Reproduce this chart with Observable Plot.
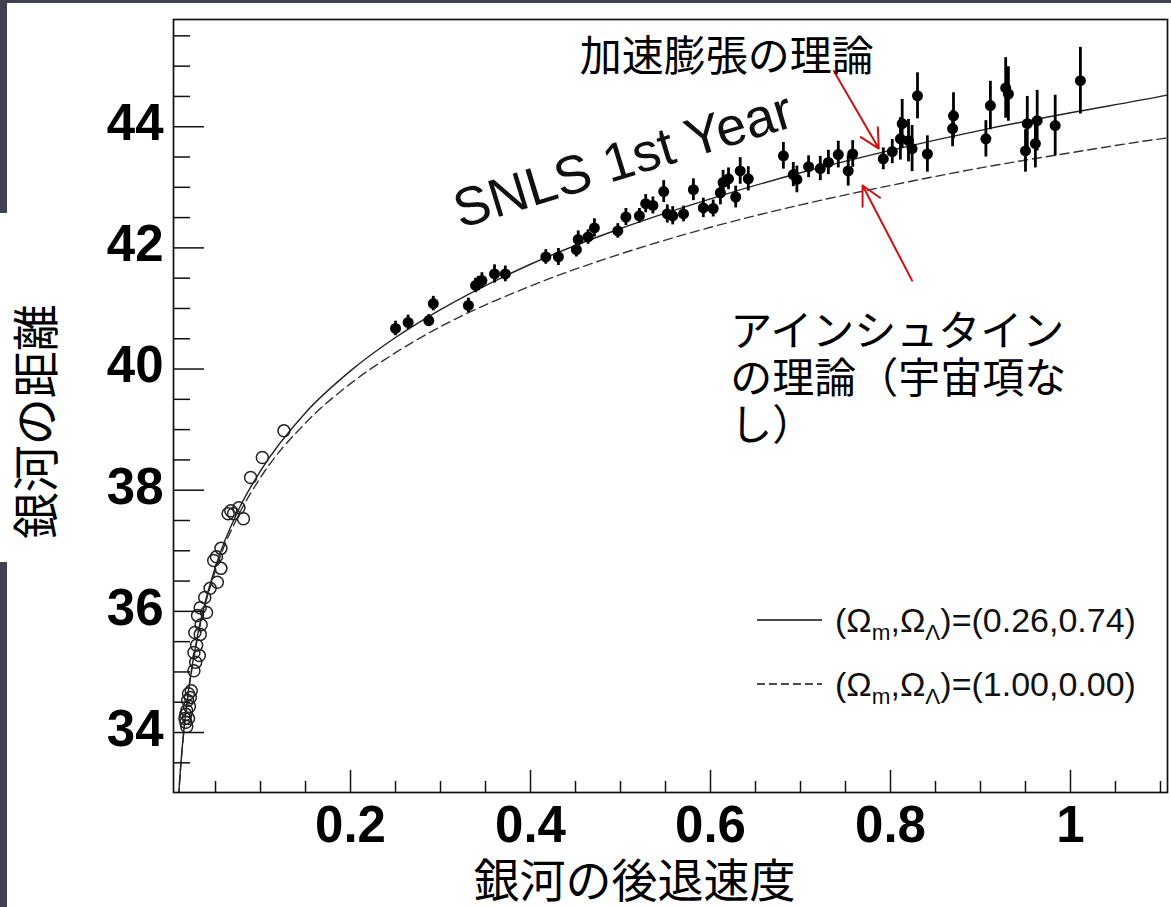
<!DOCTYPE html>
<html><head><meta charset="utf-8">
<script src="https://cdn.jsdelivr.net/npm/d3@7"></script>
<script src="https://cdn.jsdelivr.net/npm/@observablehq/plot@0.6"></script>
<style>
html,body{margin:0;padding:0;background:#fff;}
#wrap{position:relative;width:1171px;height:907px;overflow:hidden;background:#fff;}
#wrap > svg{position:absolute;left:0;top:0;}
.band{position:absolute;background:#3f4050;}
.legend{position:absolute;left:757px;height:40px;display:flex;align-items:center;font-family:"Liberation Sans",Arial,sans-serif;font-size:34px;color:#111;white-space:nowrap;}
.legend svg{margin-right:13px;flex:none;}
.legend sub{font-size:0.66em;vertical-align:-0.35em;line-height:0;}
</style></head><body><div id="wrap"></div>
<script>
// ---- tick values & labels ----
const xTickMajor = [0.2, 0.4, 0.6, 0.8, 1.0];
const xTickLabels = ["0.2", "0.4", "0.6", "0.8", "1"];
const xTickMinor = [0.05, 0.1, 0.15, 0.25, 0.3, 0.35, 0.45, 0.5, 0.55, 0.65, 0.7, 0.75, 0.85, 0.9, 0.95, 1.05, 1.1];
const yTickMajor = [34, 36, 38, 40, 42, 44];
const yTickLabels = ["34", "36", "38", "40", "42", "44"];
const yTickMinor = [33.5, 34.5, 35, 35.5, 36.5, 37, 37.5, 38.5, 39, 39.5, 40.5, 41, 41.5, 42.5, 43, 43.5, 44.5, 45, 45.5];

// ---- SNLS 1st year supernovae (filled) ----
const snlsZ = [0.250,0.264,0.287,0.292,0.331,0.339,0.342,0.346,0.360,0.372,0.417,0.431,0.451,0.453,0.464,0.471,0.497,0.506,0.521,0.528,0.536,0.548,0.552,0.558,0.570,0.581,0.592,0.603,0.611,0.614,0.620,0.628,0.633,0.642,0.681,0.692,0.696,0.709,0.722,0.731,0.742,0.753,0.758,0.792,0.802,0.811,0.813,0.820,0.824,0.830,0.841,0.869,0.870,0.906,0.911,0.928,0.931,0.950,0.952,0.961,0.963,0.983,1.011];
const snlsMu = [40.67,40.77,40.80,41.08,41.05,41.38,41.41,41.46,41.57,41.57,41.85,41.85,41.97,42.14,42.18,42.33,42.28,42.51,42.53,42.73,42.70,42.93,42.56,42.53,42.56,42.96,42.66,42.65,42.91,43.08,43.14,42.84,43.27,43.14,43.52,43.21,43.13,43.34,43.31,43.41,43.54,43.27,43.55,43.47,43.59,43.80,44.05,43.77,43.64,44.51,43.55,43.97,44.18,43.80,44.35,44.64,44.54,43.60,44.05,43.72,44.10,44.02,44.76];
const snlsErr = [0.12,0.12,0.10,0.12,0.12,0.12,0.12,0.13,0.15,0.13,0.12,0.14,0.12,0.14,0.12,0.15,0.12,0.14,0.12,0.15,0.14,0.18,0.15,0.15,0.13,0.18,0.16,0.14,0.20,0.20,0.18,0.18,0.22,0.20,0.22,0.20,0.22,0.18,0.20,0.20,0.22,0.25,0.22,0.18,0.20,0.35,0.40,0.35,0.38,0.38,0.30,0.30,0.38,0.30,0.40,0.50,0.45,0.35,0.45,0.40,0.50,0.50,0.55];

// ---- nearby supernovae (open circles) ----
const nearZ = [0.126,0.102,0.089,0.081,0.076,0.067,0.070,0.064,0.056,0.051,0.048,0.056,0.052,0.044,0.038,0.033,0.040,0.030,0.034,0.027,0.033,0.029,0.026,0.032,0.028,0.026,0.023,0.022,0.019,0.021,0.018,0.017,0.020,0.017,0.018,0.016,0.020];
const nearMu = [38.98,38.54,38.21,37.53,37.71,37.66,37.61,37.61,37.04,36.90,36.84,36.71,36.48,36.38,36.23,36.06,35.98,35.93,35.78,35.65,35.62,35.44,35.32,35.27,35.16,35.02,34.69,34.58,34.53,34.43,34.36,34.30,34.23,34.17,34.10,34.23,34.64];

// ---- model curves ----
const curveZ    = [0.008,0.01,0.015,0.02,0.03,0.05,0.075,0.1,0.15,0.2,0.25,0.3,0.4,0.5,0.6,0.7,0.8,0.9,1.0,1.1,1.11];
const lcdmMu    = [32.69,33.18,34.07,34.70,35.60,36.74,37.66,38.32,39.28,39.97,40.52,40.98,41.73,42.32,42.81,43.24,43.61,43.94,44.23,44.50,44.53];
const edsMu     = [32.68,33.16,34.05,34.67,35.56,36.68,37.57,38.21,39.11,39.76,40.27,40.70,41.37,41.90,42.34,42.71,43.03,43.32,43.57,43.80,43.82];

// ---- texts ----
const xTitle = [{text: "銀河の後退速度"}];
const yTitle = [{y: 39.13, text: "銀河の距離"}];
const snlsLabel = [{x: 0.503, y: 43.44, text: "SNLS 1st Year"}];
const accelLabel = [{x: 0.618, y: 45.14, text: "加速膨張の理論"}];
const einsteinLabel = [{x: 0.622, y: 39.86, text: "アインシュタイン\nの理論（宇宙項な\nし）"}];
const arrows = [
  {x1: 0.737, y1: 44.92, x2: 0.787, y2: 43.64},
  {x1: 0.824, y1: 41.46, x2: 0.769, y2: 43.03}
];
const legendLabels = [
  {dash: null, html: "(Ω<sub>m</sub>,Ω<sub>Λ</sub>)=(0.26,0.74)"},
  {dash: "8,4", html: "(Ω<sub>m</sub>,Ω<sub>Λ</sub>)=(1.00,0.00)"}
];

// ---- build tables ----
const snls = snlsZ.map((z, i) => ({z, mu: snlsMu[i], err: snlsErr[i]}));
const near = nearZ.map((z, i) => ({z, mu: nearMu[i]}));
const curve = curveZ.map((z, i) => ({z, lcdm: lcdmMu[i], eds: edsMu[i]}));

const W = 1171, H = 907, mT = 19, mR = 4, mB = 115, mL = 173;
const fw = W - mL - mR, fh = H - mT - mB;
const jp = "'Noto Sans CJK JP', 'Noto Sans CJK SC', sans-serif";

const chart = Plot.plot({
  width: W, height: H,
  marginTop: mT, marginRight: mR, marginBottom: mB, marginLeft: mL,
  x: {domain: [0.0033, 1.1078], axis: null},
  y: {domain: [33.01, 45.77], axis: null},
  style: {fontFamily: "'Liberation Sans', Arial, sans-serif", background: "transparent", overflow: "visible"},
  marks: [
    Plot.line(curve, {x: "z", y: "eds", stroke: "#333", strokeWidth: 1.4, strokeDasharray: "9,5", curve: "monotone-x", clip: true}),
    Plot.line(curve, {x: "z", y: "lcdm", stroke: "#222", strokeWidth: 1.4, curve: "monotone-x", clip: true}),
    Plot.dot(near, {x: "z", y: "mu", r: 6, stroke: "#222", strokeWidth: 1.5, fill: "none"}),
    Plot.ruleX(snls, {x: "z", y1: d => d.mu - d.err, y2: d => d.mu + d.err, stroke: "#000", strokeWidth: 2.8}),
    Plot.dot(snls, {x: "z", y: "mu", r: 5.5, fill: "#000"}),
    Plot.tickX(xTickMinor, {x: d => d, insetTop: fh - 11, stroke: "#111", strokeWidth: 1.5}),
    Plot.tickX(xTickMajor, {x: d => d, insetTop: fh - 22, stroke: "#111", strokeWidth: 1.5}),
    Plot.tickY(yTickMinor, {y: d => d, insetRight: fw - 17, stroke: "#111", strokeWidth: 1.5}),
    Plot.tickY(yTickMajor, {y: d => d, insetRight: fw - 31, stroke: "#111", strokeWidth: 1.5}),
    Plot.frame({stroke: "#111", strokeWidth: 1.7}),
    Plot.text(yTickMajor, {y: d => d, text: (d, i) => yTickLabels[i], frameAnchor: "left", dx: -10, dy: -3, textAnchor: "end", lineAnchor: "middle", fontSize: 51, fontWeight: "bold", fill: "#000"}),
    Plot.text(xTickMajor, {x: d => d, text: (d, i) => xTickLabels[i], frameAnchor: "bottom", dy: 13, lineAnchor: "top", fontSize: 51, fontWeight: "bold", fill: "#000"}),
    Plot.text(xTitle, {text: "text", frameAnchor: "bottom", dx: -36, dy: 90, textAnchor: "middle", lineAnchor: "middle", fontSize: 46, fontFamily: jp, fill: "#000"}),
    Plot.text(yTitle, {y: "y", text: "text", frameAnchor: "left", dx: -136, rotate: -90, textAnchor: "middle", lineAnchor: "middle", fontSize: 47, fontFamily: jp, fill: "#000"}),
    Plot.text(snlsLabel, {x: "x", y: "y", text: "text", rotate: -17, fontSize: 54, fill: "#111", lineAnchor: "middle"}),
    Plot.arrow(arrows, {x1: "x1", y1: "y1", x2: "x2", y2: "y2", stroke: "#d01010", strokeWidth: 2, headLength: 16, headAngle: 55}),
    Plot.text(accelLabel, {x: "x", y: "y", text: "text", fontSize: 42, fontFamily: jp, fill: "#000", lineAnchor: "middle"}),
    Plot.text(einsteinLabel, {x: "x", y: "y", text: "text", fontSize: 42, fontFamily: jp, fill: "#000", textAnchor: "start", lineAnchor: "middle", lineHeight: 1.12})
  ]
});

const wrap = document.getElementById("wrap");
wrap.appendChild(chart);

// slide background strips
[[0, 0, W, 3], [0, 0, 7, 213], [0, 562, 7, H - 562]].forEach(([l, t, w, h]) => {
  const b = document.createElement("div");
  b.className = "band";
  Object.assign(b.style, {left: l + "px", top: t + "px", width: w + "px", height: h + "px"});
  wrap.appendChild(b);
});

// legend
const legendTops = [600, 664];
legendLabels.forEach((d, i) => {
  const row = document.createElement("div");
  row.className = "legend";
  row.style.top = legendTops[i] + "px";
  row.innerHTML = `<svg width="65" height="10"><line x1="0" x2="65" y1="5" y2="5" stroke="#111" stroke-width="1.5" ${d.dash ? `stroke-dasharray="${d.dash}"` : ""}/></svg><span>${d.html}</span>`;
  wrap.appendChild(row);
});
</script></body></html>
